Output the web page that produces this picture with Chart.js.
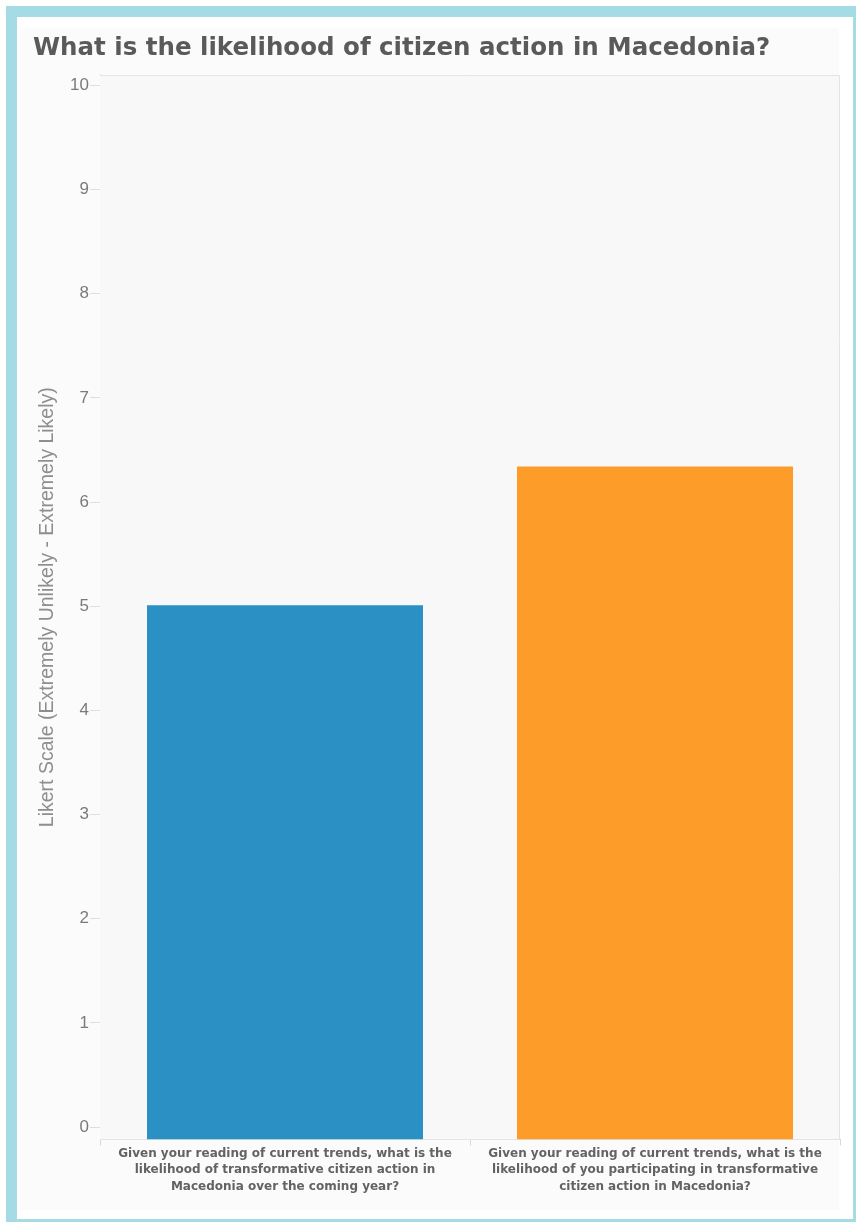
<!DOCTYPE html>
<html>
<head>
<meta charset="utf-8">
<script src="https://cdn.jsdelivr.net/npm/chart.js@4/dist/chart.umd.min.js"></script>
<style>
  html, body { margin: 0; padding: 0; background: #ffffff; overflow: hidden; }
  body { width: 856px; height: 1222px; position: relative; }
  .frame {
    position: absolute; left: 6px; top: 6px;
    width: 836px; height: 1202px;
    border: 11px solid #a4dbe5;
    background: #ffffff;
  }
  .panel {
    position: absolute; left: 3px; top: 11px;
    width: 819px; height: 1182px;
    background: #fbfbfb;
  }
  #chart { position: absolute; left: 0; top: 0; }
</style>
</head>
<body>
<div class="frame">
  <div class="panel"></div>
  <canvas id="chart" width="836" height="1202"></canvas>
</div>
<script>
// Survey questions (x categories)
const questions = [
  ["Given your reading of current trends, what is the",
   "likelihood of transformative citizen action in",
   "Macedonia over the coming year?"],
  ["Given your reading of current trends, what is the",
   "likelihood of you participating in transformative",
   "citizen action in Macedonia?"]
];
// Mean Likert score per question
const likertScores = [5.01, 6.34];
const barColors = ["#2b91c5", "#fe9c2a"];
// Y axis tick values
const yTickValues = [0, 1, 2, 3, 4, 5, 6, 7, 8, 9, 10];
const yMin = -0.12;
const yMax = 10.1;

const plotFrame = {
  id: 'plotFrame',
  beforeDatasetsDraw(chart) {
    const { ctx, chartArea: a } = chart;
    ctx.save();
    ctx.fillStyle = '#f8f8f8';
    ctx.fillRect(a.left, a.top, a.right - a.left, a.bottom - a.top);
    ctx.strokeStyle = '#e4e4e4';
    ctx.lineWidth = 1;
    ctx.beginPath();
    ctx.moveTo(a.left, a.top + 0.5);
    ctx.lineTo(a.right - 0.5, a.top + 0.5);
    ctx.lineTo(a.right - 0.5, a.bottom);
    ctx.stroke();
    ctx.restore();
  }
};

new Chart(document.getElementById('chart'), {
  type: 'bar',
  data: {
    labels: questions,
    datasets: [{
      data: likertScores,
      backgroundColor: barColors,
      borderWidth: 0,
      base: yMin,
      barPercentage: 0.746,
      categoryPercentage: 1.0
    }]
  },
  options: {
    responsive: false,
    animation: false,
    devicePixelRatio: 1,
    layout: { padding: { left: 16, right: 13, top: 8, bottom: 9.5 } },
    plugins: {
      legend: { display: false },
      tooltip: { enabled: false },
      title: {
        display: true,
        text: 'What is the likelihood of citizen action in Macedonia?',
        align: 'start',
        color: '#5a5a5a',
        font: { family: '"DejaVu Sans", sans-serif', size: 24.5, weight: 'bold', lineHeight: 1.3 },
        padding: { top: 8.1, bottom: 10 }
      }
    },
    scales: {
      x: {
        grid: {
          offset: true,
          drawOnChartArea: false,
          tickLength: 6,
          color: '#d8d8d8'
        },
        border: { display: true, color: '#d0d0d0' },
        ticks: {
          padding: 0,
          color: '#636363',
          font: { family: '"DejaVu Sans", Verdana, sans-serif', size: 12, weight: 'bold', lineHeight: 1.375 },
          maxRotation: 0,
          autoSkip: false
        },
        afterFit(scale) { scale.height = 70; }
      },
      y: {
        min: yMin,
        max: yMax,
        afterBuildTicks(scale) {
          scale.ticks = yTickValues.map(v => ({ value: v }));
        },
        grid: {
          drawOnChartArea: false,
          tickLength: 10,
          color: '#dedede'
        },
        border: { display: true, color: '#e0e0e0' },
        ticks: {
          padding: 1,
          color: '#7a7a7a',
          font: { family: '"Liberation Sans", Arial, sans-serif', size: 17 }
        },
        title: {
          display: true,
          text: 'Likert Scale (Extremely Unlikely - Extremely Likely)',
          color: '#8e8e8e',
          font: { family: '"Liberation Sans", Arial, sans-serif', size: 19.5, lineHeight: 1.2 },
          padding: { top: 3.3, bottom: 0 }
        },
        afterFit(scale) { scale.width = 67; }
      }
    }
  },
  plugins: [plotFrame]
});
</script>
</body>
</html>
